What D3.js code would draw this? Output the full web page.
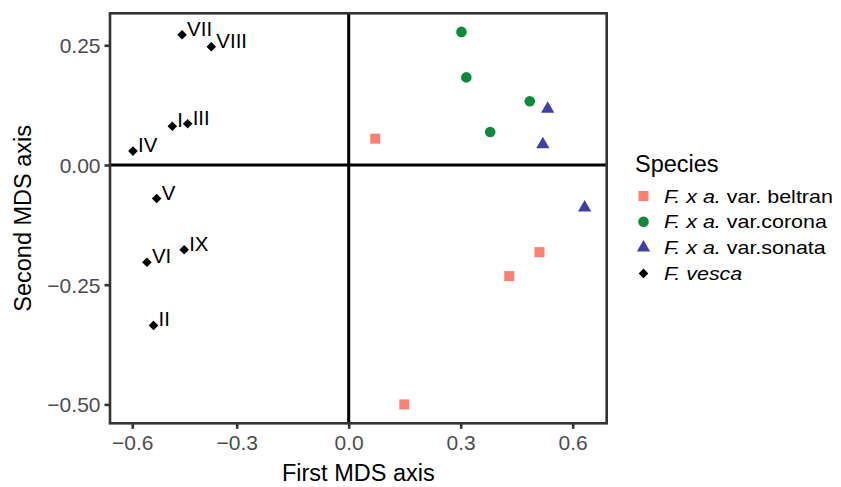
<!DOCTYPE html>
<html>
<head>
<meta charset="utf-8">
<script src="https://cdn.jsdelivr.net/npm/d3@7"></script>
<style>
  body { margin: 0; background: #fff; }
  text { font-family: "Liberation Sans", Arial, sans-serif; }
</style>
</head>
<body>
<div class="chart"></div>
<script>
// MDS coordinates
var beltranX = [0.071, 0.511, 0.430, 0.149];
var beltranY = [0.055, -0.182, -0.232, -0.500];

var coronaX = [0.302, 0.315, 0.485, 0.379];
var coronaY = [0.278, 0.183, 0.133, 0.069];

var sonataX = [0.533, 0.520, 0.632];
var sonataY = [0.117, 0.043, -0.089];

var vescaNames = ['VII', 'VIII', 'I', 'III', 'IV', 'V', 'IX', 'VI', 'II'];
var vescaX = [-0.457, -0.373, -0.485, -0.441, -0.598, -0.530, -0.451, -0.558, -0.539];
var vescaY = [0.272, 0.247, 0.081, 0.086, 0.029, -0.070, -0.177, -0.203, -0.335];

var xTicks = [-0.6, -0.3, 0.0, 0.3, 0.6];
var yTicks = [0.25, 0.00, -0.25, -0.50];

var legendItalic = ['F. x a.', 'F. x a.', 'F. x a.', 'F. vesca'];
var legendPlain = [' var. beltran', ' var.corona', ' var.sonata', ''];

var width = 841,
    height = 487;

var panel = { left: 110, right: 606.7, top: 13.3, bottom: 423.3 };

var svg = d3.select('.chart')
    .append('svg')
    .attr('width', width)
    .attr('height', height);

// the tick spacing on the x axis is not quite even in the original
var x = d3.scaleLinear()
    .domain([-0.6, -0.3, 0.6])
    .range([132.3, 236.7, 572.7]);

var y = d3.scaleLinear()
    .domain([0, 0.25])
    .range([165, 45.3]);

// species: symbol, size, colour
var species = [
    { key: 'beltran', xs: beltranX, ys: beltranY, type: d3.symbolSquare, size: 100, color: '#FA8072', rot: 0 },
    { key: 'corona', xs: coronaX, ys: coronaY, type: d3.symbolCircle, size: 88, color: '#0E8A3A', rot: 0 },
    { key: 'sonata', xs: sonataX, ys: sonataY, type: d3.symbolTriangle, size: 76, color: '#3F3FA5', rot: 0 },
    { key: 'vesca', xs: vescaX, ys: vescaY, type: d3.symbolSquare, size: 46, color: '#000000', rot: 45 }
];

// zero lines
svg.append('line')
    .attr('x1', panel.left).attr('x2', panel.right)
    .attr('y1', y(0)).attr('y2', y(0))
    .attr('stroke', '#000').attr('stroke-width', 3);
svg.append('line')
    .attr('x1', x(0)).attr('x2', x(0))
    .attr('y1', panel.top).attr('y2', panel.bottom)
    .attr('stroke', '#000').attr('stroke-width', 3);

// points
species.forEach(function(sp) {
    var pts = sp.xs.map(function(v, i) { return { x: v, y: sp.ys[i] }; });
    svg.append('g').selectAll('path')
        .data(pts)
        .enter()
        .append('path')
        .attr('d', d3.symbol().type(sp.type).size(sp.size))
        .attr('transform', function(d) {
            return 'translate(' + x(d.x) + ',' + y(d.y) + ') rotate(' + sp.rot + ')';
        })
        .attr('fill', sp.color);
});

// labels for the F. vesca samples
svg.append('g').selectAll('text')
    .data(vescaNames)
    .enter()
    .append('text')
    .attr('x', function(d, i) { return x(vescaX[i]) + 5; })
    .attr('y', function(d, i) { return y(vescaY[i]) + 1; })
    .attr('font-size', 20.5)
    .attr('fill', '#000')
    .text(function(d) { return d; });

// panel border
svg.append('rect')
    .attr('x', panel.left).attr('y', panel.top)
    .attr('width', panel.right - panel.left)
    .attr('height', panel.bottom - panel.top)
    .attr('fill', 'none')
    .attr('stroke', '#333333')
    .attr('stroke-width', 2.6);

// axes
var xAxis = svg.append('g')
    .attr('transform', 'translate(0,' + panel.bottom + ')')
    .call(d3.axisBottom(x).tickValues(xTicks).tickSize(5.5).tickPadding(6)
        .tickFormat(d3.format('.1f')));
var yAxis = svg.append('g')
    .attr('transform', 'translate(' + panel.left + ',0)')
    .call(d3.axisLeft(y).tickValues(yTicks).tickSize(5.5).tickPadding(4)
        .tickFormat(d3.format('.2f')));

[xAxis, yAxis].forEach(function(ax) {
    ax.select('.domain').remove();
    ax.selectAll('.tick line').attr('stroke', '#333333').attr('stroke-width', 2.6);
    ax.selectAll('.tick text')
        .attr('fill', '#4D4D4D')
        .attr('font-size', 21)
        .attr('font-family', '"Liberation Sans", Arial, sans-serif');
});
xAxis.selectAll('.tick text').attr('dy', '0.72em');
yAxis.selectAll('.tick text').attr('dy', '0.36em');

// axis titles
svg.append('text')
    .attr('x', (panel.left + panel.right) / 2)
    .attr('y', 481)
    .attr('text-anchor', 'middle')
    .attr('font-size', 23.5)
    .text('First MDS axis');

svg.append('text')
    .attr('transform', 'translate(31,' + (panel.top + panel.bottom) / 2 + ') rotate(-90)')
    .attr('text-anchor', 'middle')
    .attr('font-size', 23.5)
    .text('Second MDS axis');

// legend
var legend = svg.append('g');
legend.append('text')
    .attr('x', 635)
    .attr('y', 172)
    .attr('font-size', 23.5)
    .text('Species');

species.forEach(function(sp, i) {
    var cy = 196 + i * 25.8;
    legend.append('path')
        .attr('d', d3.symbol().type(sp.type).size(sp.size))
        .attr('transform', 'translate(643.5,' + cy + ') rotate(' + sp.rot + ')')
        .attr('fill', sp.color);
    // the legend lettering in the original is a little wider than normal
    var t = legend.append('text')
        .attr('transform', 'translate(664,' + (cy + 6.5) + ') scale(1.16,1)')
        .attr('font-size', 18.5);
    t.append('tspan').attr('font-style', 'italic').text(legendItalic[i]);
    t.append('tspan').text(legendPlain[i]);
});
</script>
</body>
</html>
